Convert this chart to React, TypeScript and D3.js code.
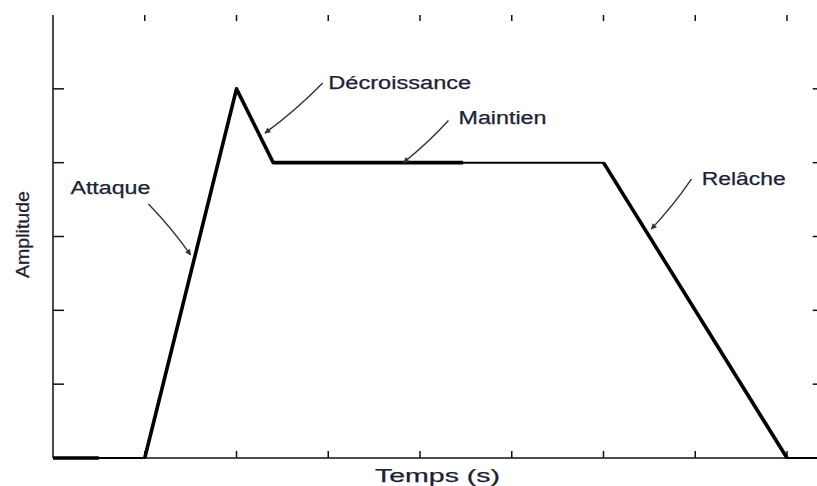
import React from "react";
import * as d3 from "d3";

// Envelope (ADSR) data, in axis units
const times = [0, 0.5, 1, 2, 2.4, 4.47, 6, 8, 8.4];
const amps = [0, 0, 0, 5, 4, 4, 4, 0, 0];
// index ranges of the envelope drawn with heavy stroke
const heavyRanges: [number, number][] = [[0, 1], [2, 5], [6, 7]];

const xTicks = [1, 2, 3, 4, 5, 6, 7, 8];
const yTicks = [1, 2, 3, 4, 5];

// Annotations: label, text position (axis units) and arrow from->to (axis units)
const labels = ["Attaque", "Décroissance", "Maintien", "Relâche"];
const labelX = [0.19, 3.0, 4.42, 7.07];
const labelY = [3.57, 5.0, 4.53, 3.7];
const labelWidth = [80, 143, 88, 84];
const arrowFromX = [1.04, 2.94, 4.31, 6.96];
const arrowFromY = [3.44, 5.08, 4.57, 3.78];
const arrowToX = [1.5, 2.31, 3.82, 6.52];
const arrowToY = [2.75, 4.4, 4.0, 3.1];

const W = 817;
const H = 486;
const left = 53;
const bottom = 458;
const top = 15;
const unit = 91.75;

export default function App() {
  const x = d3.scaleLinear().domain([0, 8.4]).range([left, left + 8.4 * unit]);
  const y = d3.scaleLinear().domain([0, 6]).range([bottom, top]);
  const pts: [number, number][] = times.map((t, i) => [t, amps[i]]);
  const line = d3
    .line<[number, number]>()
    .x((d) => x(d[0]))
    .y((d) => y(d[1]));
  const right = x(8.4);
  const textColor = "#1c2233";
  const font = "'Liberation Sans', Arial, Helvetica, sans-serif";
  const textProps = {
    fontFamily: font,
    fontSize: 18,
    fill: textColor,
    stroke: textColor,
    strokeWidth: 0.25,
    lengthAdjust: "spacingAndGlyphs",
  } as const;

  return (
    <svg
      width={W}
      height={H}
      style={{ position: "absolute", left: 0, top: 0, background: "#fff" }}
    >
      <defs>
        <marker
          id="ah"
          viewBox="0 0 10 10"
          refX="9"
          refY="5"
          markerWidth="7"
          markerHeight="6"
          markerUnits="userSpaceOnUse"
          orient="auto"
        >
          <path d="M0,0 L10,5 L0,10 z" fill="#333" />
        </marker>
      </defs>
      {/* axes */}
      <line x1={left} y1={top} x2={left} y2={bottom} stroke="#111" strokeWidth={1.5} />
      <line x1={left} y1={bottom} x2={right} y2={bottom} stroke="#111" strokeWidth={1.5} />
      {xTicks.map((t) => (
        <g key={"xt" + t}>
          <line x1={x(t)} x2={x(t)} y1={bottom} y2={bottom - 7} stroke="#111" strokeWidth={1.5} />
          <line x1={x(t)} x2={x(t)} y1={top} y2={top + 6} stroke="#111" strokeWidth={1.5} />
        </g>
      ))}
      {yTicks.map((t) => (
        <g key={"yt" + t}>
          <line x1={left} x2={left + 11} y1={y(t)} y2={y(t)} stroke="#111" strokeWidth={1.5} />
          <line x1={right} x2={right - 11} y1={y(t)} y2={y(t)} stroke="#111" strokeWidth={1.5} />
        </g>
      ))}
      {/* envelope */}
      <path d={line(pts) || ""} fill="none" stroke="#000" strokeWidth={2} strokeLinejoin="round" />
      {heavyRanges.map(([a, b], i) => (
        <path
          key={"h" + i}
          d={line(pts.slice(a, b + 1)) || ""}
          fill="none"
          stroke="#000"
          strokeWidth={3.6}
          strokeLinejoin="round"
        />
      ))}
      {/* annotations */}
      {labels.map((lab, i) => {
        const x0 = x(arrowFromX[i]);
        const y0 = y(arrowFromY[i]);
        const x1 = x(arrowToX[i]);
        const y1 = y(arrowToY[i]);
        const cx = (x0 + x1) / 2 + (y1 - y0) * 0.04;
        const cy = (y0 + y1) / 2 - (x1 - x0) * 0.04;
        return (
          <g key={lab}>
            <path
              d={`M${x0},${y0} Q${cx},${cy} ${x1},${y1}`}
              fill="none"
              stroke="#333"
              strokeWidth={1.4}
              markerEnd="url(#ah)"
            />
            <text x={x(labelX[i])} y={y(labelY[i])} textLength={labelWidth[i]} {...textProps}>
              {lab}
            </text>
          </g>
        );
      })}
      <text x={375} y={481.5} textLength={125} {...textProps}>
        Temps (s)
      </text>
      <text transform="translate(29,278) rotate(-90)" x={0} y={0} textLength={87} {...textProps}>
        Amplitude
      </text>
    </svg>
  );
}
